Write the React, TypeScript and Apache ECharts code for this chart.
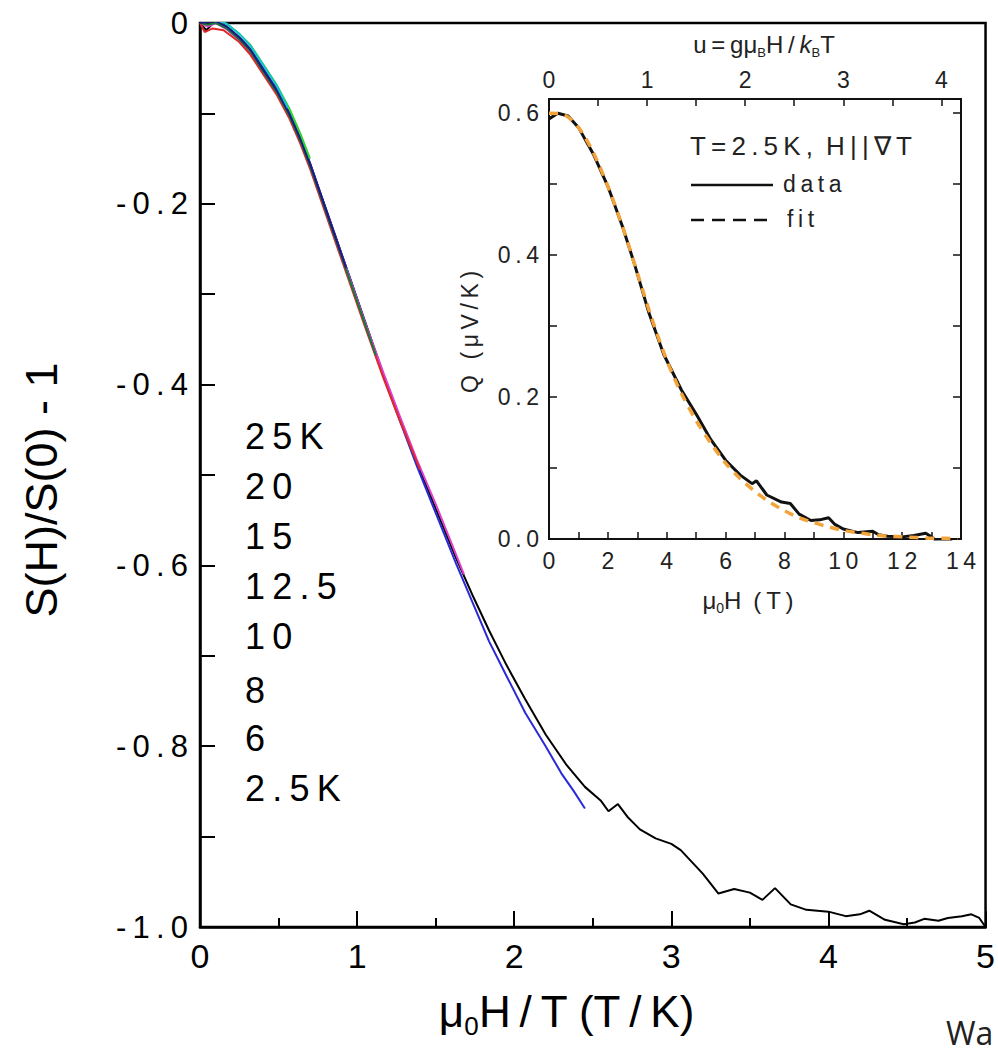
import React, { useEffect, useRef } from 'react';
import * as echarts from 'echarts';

const FONT = '"Liberation Sans", Arial, Helvetica, sans-serif';
const TS = '\u2009';
const sp = (s: string) => s.split('').join(TS);

// ---------- Main plot: S(H)/S(0) - 1 versus mu0H/T ----------
const tempLabels = ['25K', '20', '15', '12.5', '10', '8', '6', '2.5K'];

const x25 = [0, 0.05, 0.1, 0.17, 0.25, 0.32, 0.4, 0.49, 0.56];
const y25 = [0.003, 0.004, 0.004, -0.001, -0.012, -0.025, -0.046, -0.07, -0.094];

const x20 = [0, 0.05, 0.1, 0.17, 0.25, 0.32, 0.4, 0.49, 0.57, 0.64, 0.7];
const y20 = [0.002, 0.003, 0.004, -0.001, -0.012, -0.024, -0.045, -0.069, -0.095, -0.123, -0.15];

const x15 = [0, 0.05, 0.1, 0.17, 0.25, 0.32, 0.4, 0.49, 0.57, 0.64, 0.7, 0.77, 0.85, 0.93];
const y15 = [0, 0.001, 0.002, -0.004, -0.016, -0.029, -0.051, -0.075, -0.101, -0.129, -0.156, -0.191, -0.231, -0.271];

const x12 = [0, 0.05, 0.1, 0.17, 0.25, 0.32, 0.4, 0.49, 0.57, 0.64, 0.7, 0.77, 0.85, 0.95, 1.05, 1.12];
const y12 = [0, -0.002, 0, -0.006, -0.018, -0.031, -0.053, -0.077, -0.103, -0.131, -0.158, -0.193, -0.233, -0.283, -0.333, -0.368];

const x10 = [0, 0.03, 0.08, 0.15, 0.25, 0.32, 0.4, 0.49, 0.57, 0.64, 0.7, 0.77, 0.85, 0.95, 1.05, 1.17, 1.27, 1.4];
const y10 = [0, -0.01, -0.006, -0.008, -0.021, -0.035, -0.056, -0.08, -0.106, -0.134, -0.161, -0.196, -0.236, -0.286, -0.336, -0.394, -0.439, -0.494];

const x8 = [0, 0.05, 0.1, 0.17, 0.25, 0.32, 0.4, 0.49, 0.57, 0.64, 0.7, 0.77, 0.85, 0.95, 1.05, 1.17, 1.27, 1.38, 1.5, 1.6, 1.68];
const y8 = [0, -0.004, 0, -0.007, -0.019, -0.033, -0.054, -0.078, -0.104, -0.132, -0.159, -0.193, -0.232, -0.281, -0.331, -0.388, -0.434, -0.483, -0.532, -0.575, -0.61];

const x6 = [0, 0.05, 0.1, 0.17, 0.25, 0.32, 0.4, 0.49, 0.57, 0.64, 0.7, 0.77, 0.85, 0.95, 1.05, 1.17, 1.27, 1.38, 1.5, 1.63, 1.74, 1.84, 1.95, 2.07, 2.2, 2.3, 2.38, 2.45];
const y6 = [0, 0.002, 0.002, -0.004, -0.016, -0.029, -0.05, -0.074, -0.1, -0.128, -0.155, -0.19, -0.23, -0.28, -0.331, -0.392, -0.439, -0.49, -0.542, -0.598, -0.643, -0.684, -0.722, -0.763, -0.8, -0.83, -0.85, -0.869];

const x25K = [0, 0.04, 0.1, 0.17, 0.25, 0.32, 0.4, 0.49, 0.57, 0.64, 0.7, 0.77, 0.85, 0.95, 1.05, 1.17, 1.27, 1.38, 1.5, 1.63, 1.74, 1.84, 1.95, 2.07, 2.2, 2.33, 2.45, 2.55, 2.6, 2.66, 2.72, 2.8, 2.9, 3.0, 3.06, 3.2, 3.3, 3.4, 3.5, 3.58, 3.66, 3.76, 3.86, 4.0, 4.11, 4.2, 4.26, 4.36, 4.48, 4.55, 4.61, 4.7, 4.76, 4.85, 4.91, 4.96, 5.0];
const y25K = [0, -0.008, 0.003, -0.004, -0.016, -0.029, -0.05, -0.074, -0.1, -0.128, -0.155, -0.19, -0.23, -0.28, -0.33, -0.39, -0.436, -0.486, -0.537, -0.592, -0.635, -0.672, -0.71, -0.748, -0.787, -0.82, -0.845, -0.86, -0.872, -0.864, -0.878, -0.892, -0.902, -0.908, -0.915, -0.941, -0.963, -0.958, -0.962, -0.97, -0.957, -0.975, -0.981, -0.983, -0.988, -0.986, -0.982, -0.992, -0.997, -0.995, -0.991, -0.993, -0.99, -0.988, -0.986, -0.99, -1.0];

// ---------- Inset: Q versus mu0H at T = 2.5 K ----------
const insetH = [0, 0.3, 0.65, 1.0, 1.5, 2.0, 2.5, 2.9, 3.4, 3.9, 4.5, 5.0, 5.5, 6.0, 6.5, 6.9, 7.05, 7.4, 7.9, 8.2, 8.5, 8.9, 9.2, 9.5, 9.7, 10.0, 10.5, 11.0, 11.2, 11.5, 12.0, 12.4, 12.8, 13.0, 13.2, 13.5, 13.7];
const insetQ = [0.592, 0.6, 0.596, 0.58, 0.543, 0.497, 0.44, 0.388, 0.318, 0.26, 0.21, 0.176, 0.14, 0.111, 0.09, 0.078, 0.082, 0.062, 0.052, 0.05, 0.035, 0.026, 0.027, 0.03, 0.021, 0.014, 0.009, 0.011, 0.006, 0.004, 0.003, 0.005, 0.008, 0.003, -0.004, -0.001, -0.003];

const fitH = [0, 0.5, 1, 1.5, 2, 2.5, 3, 3.5, 4, 4.5, 5, 5.5, 6, 6.5, 7, 7.5, 8, 8.5, 9, 9.5, 10, 10.5, 11, 11.5, 12, 12.5, 13, 13.5, 13.9];
const fitQ = [0.6, 0.598, 0.58, 0.545, 0.497, 0.44, 0.375, 0.31, 0.252, 0.205, 0.167, 0.135, 0.107, 0.085, 0.067, 0.052, 0.04, 0.03, 0.023, 0.017, 0.012, 0.009, 0.006, 0.004, 0.003, 0.002, 0.001, 0.001, 0];

const mainCurves = [
  { name: '2.5K', xs: x25K, ys: y25K, color: '#000000' },
  { name: '6', xs: x6, ys: y6, color: '#2a2ad6' },
  { name: '8', xs: x8, ys: y8, color: '#e040d0' },
  { name: '10', xs: x10, ys: y10, color: '#e02828' },
  { name: '12.5', xs: x12, ys: y12, color: '#137a3c' },
  { name: '15', xs: x15, ys: y15, color: '#1c1c80' },
  { name: '20', xs: x20, ys: y20, color: '#2bd62b' },
  { name: '25K', xs: x25, ys: y25, color: '#18c0d6' },
];

const zip = (xs: number[], ys: number[]) => xs.map((x, i) => [x, ys[i]]);

function buildOption() {
  const black = '#000';
  const grey = '#222';
  const mainSeries = mainCurves.map((c) => ({
    name: c.name,
    type: 'line',
    xAxisIndex: 0,
    yAxisIndex: 0,
    data: zip(c.xs, c.ys),
    showSymbol: false,
    symbol: 'none',
    lineStyle: { color: c.color, width: 2 },
    itemStyle: { color: c.color },
    z: 3,
  }));

  const legendTexts = tempLabels.map((t, i) => ({
    type: 'text',
    left: 245,
    top: [438, 488, 538, 588, 638, 692, 740, 790][i] - 20,
    style: { text: sp(t), fontSize: 36, fontFamily: FONT, fill: black },
    z: 20,
  }));

  return {
    animation: false,
    backgroundColor: '#fff',
    grid: [
      { left: 200, top: 23, width: 787, height: 904, show: true, borderColor: black, borderWidth: 2.5, backgroundColor: 'transparent' },
      { left: 549, top: 99, width: 412, height: 440, show: true, borderColor: '#111', borderWidth: 2, backgroundColor: '#fff' },
    ],
    xAxis: [
      {
        gridIndex: 0, type: 'value', min: 0, max: 5, interval: 1,
        axisLine: { show: true, onZero: false, lineStyle: { color: black, width: 2.5 } },
        axisTick: { show: true, inside: true, length: 16, lineStyle: { color: black, width: 2 } },
        minorTick: { show: true, splitNumber: 2, length: 9, lineStyle: { color: black, width: 2 } },
        splitLine: { show: false },
        axisLabel: { fontSize: 34, color: black, margin: 12, fontFamily: FONT },
        name: '{m|μ}{s|0}{m|H\u2009/\u2009T (T\u2009/\u2009K)}',
        nameLocation: 'middle',
        nameGap: 56,
        nameTextStyle: {
          padding: [0, 52, 0, 0],
          rich: {
            m: { fontSize: 44, fontFamily: FONT, color: black, lineHeight: 56 },
            s: { fontSize: 26, fontFamily: FONT, color: black, lineHeight: 56, verticalAlign: 'bottom' },
          },
        },
      },
      {
        gridIndex: 1, type: 'value', min: 0, max: 14, interval: 1,
        axisLine: { show: true, onZero: false, lineStyle: { color: '#111', width: 2 } },
        axisTick: { show: true, inside: true, length: 7, lineStyle: { color: '#111', width: 1.5 } },
        splitLine: { show: false },
        axisLabel: {
          fontSize: 23, color: grey, margin: 10, fontFamily: FONT,
          formatter: (v: number) => (Math.round(v) % 2 === 0 ? sp(String(Math.round(v))) : ''),
        },
        name: '{m|μ}{s|0}{m|H\u2002(\u2009T\u2009)}',
        nameLocation: 'middle',
        nameGap: 46,
        nameTextStyle: {
          padding: [0, 14, 0, 0],
          rich: {
            m: { fontSize: 24, fontFamily: FONT, color: grey, lineHeight: 30 },
            s: { fontSize: 14, fontFamily: FONT, color: grey, lineHeight: 30, verticalAlign: 'bottom' },
          },
        },
      },
      {
        gridIndex: 1, type: 'value', position: 'top', min: 0, max: 4.2, interval: 0.5,
        axisLine: { show: true, onZero: false, lineStyle: { color: '#111', width: 2 } },
        axisTick: { show: true, inside: true, length: 7, lineStyle: { color: '#111', width: 1.5 } },
        splitLine: { show: false },
        axisLabel: {
          fontSize: 23, color: grey, margin: 8, fontFamily: FONT, showMaxLabel: false,
          formatter: (v: number) => (Math.abs(v - Math.round(v)) < 1e-6 ? String(Math.round(v)) : ''),
        },
        name: '{m|u\u2009=\u2009gμ}{s|B}{m|H\u2009/\u2009}{i|k}{s|B}{m|T}',
        nameLocation: 'middle',
        nameGap: 40,
        nameTextStyle: {
          padding: [0, 0, 0, 18],
          rich: {
            m: { fontSize: 24, fontFamily: FONT, color: grey, lineHeight: 30 },
            i: { fontSize: 24, fontFamily: FONT, color: grey, lineHeight: 30, fontStyle: 'italic' },
            s: { fontSize: 13, fontFamily: FONT, color: grey, lineHeight: 30, verticalAlign: 'bottom' },
          },
        },
      },
    ],
    yAxis: [
      {
        gridIndex: 0, type: 'value', min: -1, max: 0, interval: 0.2,
        axisLine: { show: true, onZero: false, lineStyle: { color: black, width: 2.5 } },
        axisTick: { show: true, inside: true, length: 15, lineStyle: { color: black, width: 2 } },
        minorTick: { show: true, splitNumber: 2, length: 15, lineStyle: { color: black, width: 2 } },
        splitLine: { show: false },
        axisLabel: {
          fontSize: 31, color: black, margin: 12, fontFamily: FONT,
          formatter: (v: number) => (Math.abs(v) < 1e-9 ? '0' : sp(v.toFixed(1))),
        },
        name: 'S(H)/S(0) - 1',
        nameLocation: 'middle',
        nameGap: 136,
        nameTextStyle: { fontSize: 45, fontFamily: FONT, color: black, padding: [0, 30, 0, 0] },
      },
      {
        gridIndex: 1, type: 'value', min: 0, max: 0.62, interval: 0.1,
        axisLine: { show: true, onZero: false, lineStyle: { color: '#111', width: 2 } },
        axisTick: { show: true, inside: true, length: 8, lineStyle: { color: '#111', width: 1.5 } },
        splitLine: { show: false },
        axisLabel: {
          fontSize: 23, color: grey, margin: 10, fontFamily: FONT, showMaxLabel: false,
          formatter: (v: number) => (Math.round(v * 10) % 2 === 0 ? sp(v.toFixed(1)) : ''),
        },
        name: sp('Q (μV/K)'),
        nameLocation: 'middle',
        nameGap: 68,
        nameTextStyle: { fontSize: 23, fontFamily: FONT, color: grey, padding: [0, 26, 0, 0] },
      },
      {
        gridIndex: 1, type: 'value', position: 'right', min: 0, max: 0.62, interval: 0.1,
        axisLine: { show: true, onZero: false, lineStyle: { color: '#111', width: 2 } },
        axisTick: { show: true, inside: true, length: 8, lineStyle: { color: '#111', width: 1.5 } },
        splitLine: { show: false },
        axisLabel: { show: false },
      },
    ],
    series: [
      ...mainSeries,
      {
        name: 'data', type: 'line', xAxisIndex: 1, yAxisIndex: 1,
        data: zip(insetH, insetQ), showSymbol: false, symbol: 'none',
        lineStyle: { color: '#111', width: 3 }, z: 5,
      },
      {
        name: 'fit', type: 'line', xAxisIndex: 1, yAxisIndex: 1,
        data: zip(fitH, fitQ), showSymbol: false, symbol: 'none', smooth: 0.3,
        lineStyle: { color: '#f2a33a', width: 3.5, type: [9, 7] }, z: 6,
      },
    ],
    graphic: [
      ...legendTexts,
      {
        type: 'text', left: 690, top: 133, z: 20,
        style: { text: 'T\u2009=\u20092\u2009.\u20095\u2009K\u2009,\u2002H\u2009|\u2009|\u2009∇\u2009T', fontSize: 26, fontFamily: FONT, fill: grey },
      },
      { type: 'line', z: 20, shape: { x1: 691, y1: 185, x2: 773, y2: 185 }, style: { stroke: '#111', lineWidth: 2.5 } },
      { type: 'text', left: 783, top: 172, z: 20, style: { text: sp('data'), fontSize: 23, fontFamily: FONT, fill: grey } },
      { type: 'line', z: 20, shape: { x1: 691, y1: 220, x2: 775, y2: 220 }, style: { stroke: '#111', lineWidth: 2.5, lineDash: [13, 8] } },
      { type: 'text', left: 787, top: 207, z: 20, style: { text: sp('fit'), fontSize: 23, fontFamily: FONT, fill: grey } },
      { type: 'text', left: 946, top: 1016, z: 20, style: { text: 'Wa', fontSize: 32, fontFamily: '"Open Sans", "Liberation Sans", sans-serif', fill: '#222' } },
    ],
  };
}

export default function App() {
  const ref = useRef<HTMLDivElement>(null);
  useEffect(() => {
    if (!ref.current) return;
    const chart = echarts.init(ref.current, null, { renderer: 'svg' });
    chart.setOption(buildOption() as any);
    return () => chart.dispose();
  }, []);
  return (
    <div
      ref={ref}
      style={{ position: 'absolute', left: 0, top: 0, width: 998, height: 1058, background: '#fff' }}
    />
  );
}
